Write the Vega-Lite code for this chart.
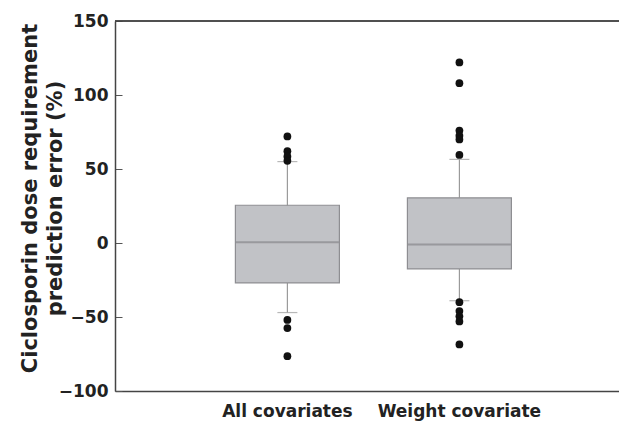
{
  "$schema": "https://vega.github.io/schema/vega-lite/v6.json",
  "width": 504,
  "height": 370,
  "autosize": {"type": "none"},
  "padding": {"left": 115, "top": 21, "right": 0, "bottom": 31},
  "background": "white",
  "config": {
    "view": {"stroke": null},
    "font": "DejaVu Sans"
  },
  "datasets": {
    "boxes": [
      {"cat": "All covariates", "lower": -47, "q1": -27, "median": 0.5, "q3": 25.5, "upper": 55},
      {"cat": "Weight covariate", "lower": -39, "q1": -17.5, "median": -1, "q3": 30.5, "upper": 56.5}
    ],
    "outliers": [
      {"cat": "All covariates", "v": 72},
      {"cat": "All covariates", "v": 62},
      {"cat": "All covariates", "v": 58.5},
      {"cat": "All covariates", "v": 55.5},
      {"cat": "All covariates", "v": -52},
      {"cat": "All covariates", "v": -57.5},
      {"cat": "All covariates", "v": -76.5},
      {"cat": "Weight covariate", "v": 122},
      {"cat": "Weight covariate", "v": 108},
      {"cat": "Weight covariate", "v": 76},
      {"cat": "Weight covariate", "v": 72.5},
      {"cat": "Weight covariate", "v": 70},
      {"cat": "Weight covariate", "v": 59.5},
      {"cat": "Weight covariate", "v": -40},
      {"cat": "Weight covariate", "v": -46},
      {"cat": "Weight covariate", "v": -49.5},
      {"cat": "Weight covariate", "v": -53},
      {"cat": "Weight covariate", "v": -68.5}
    ]
  },
  "encoding": {
    "x": {
      "field": "cat",
      "type": "nominal",
      "sort": ["All covariates", "Weight covariate"],
      "scale": {"paddingInner": 0, "paddingOuter": 0.465, "align": 0.54},
      "axis": {
        "title": null,
        "labelAngle": 0,
        "ticks": false,
        "labelPadding": 12,
        "labelFont": "DejaVu Sans",
        "labelFontWeight": "bold",
        "labelFontSize": 17,
        "labelColor": "#222",
        "domainColor": "#444",
        "domainWidth": 1.5
      }
    }
  },
  "layer": [
    {
      "data": {"name": "boxes"},
      "mark": {"type": "rule", "color": "#9a9a9a", "strokeWidth": 1.2},
      "encoding": {
        "y": {
          "field": "lower",
          "type": "quantitative",
          "scale": {"domain": [-100, 150], "nice": false, "zero": false},
          "axis": {
            "values": [-100, -50, 0, 50, 100, 150],
            "title": ["Ciclosporin dose requirement", "prediction error (%)"],
            "titleFont": "DejaVu Sans",
            "titleFontWeight": "bold",
            "titleFontSize": 21,
            "titleColor": "#222",
            "titleLineHeight": 25,
            "titleAlign": "center",
            "titlePadding": -7,
            "titleY": 177,
            "labelFont": "DejaVu Sans",
            "labelFontWeight": "bold",
            "labelFontSize": 17,
            "labelColor": "#222",
            "labelExpr": "replace(datum.label, '-', '\u2212')",
            "grid": false,
            "tickSize": -7,
            "tickColor": "#555",
            "labelPadding": 14,
            "domainColor": "#444",
            "domainWidth": 1.5
          }
        },
        "y2": {"field": "upper"}
      }
    },
    {
      "data": {"name": "boxes"},
      "mark": {"type": "bar", "size": 104, "fill": "#c1c2c6", "stroke": "#8e8e92", "strokeWidth": 1.2},
      "encoding": {
        "y": {"field": "q1", "type": "quantitative"},
        "y2": {"field": "q3"}
      }
    },
    {
      "data": {"name": "boxes"},
      "mark": {"type": "tick", "size": 103, "thickness": 2, "color": "#88888c"},
      "encoding": {
        "y": {"field": "median", "type": "quantitative"}
      }
    },
    {
      "data": {"name": "boxes"},
      "mark": {"type": "tick", "size": 20, "thickness": 1.2, "color": "#9a9a9a"},
      "encoding": {
        "y": {"field": "lower", "type": "quantitative"}
      }
    },
    {
      "data": {"name": "boxes"},
      "mark": {"type": "tick", "size": 20, "thickness": 1.2, "color": "#9a9a9a"},
      "encoding": {
        "y": {"field": "upper", "type": "quantitative"}
      }
    },
    {
      "data": {"name": "outliers"},
      "mark": {"type": "point", "filled": true, "size": 60, "color": "#111", "opacity": 1},
      "encoding": {
        "y": {"field": "v", "type": "quantitative"}
      }
    },
    {
      "data": {"name": "boxes"},
      "mark": {"type": "rule", "color": "#444", "strokeWidth": 1.5},
      "encoding": {
        "x": null,
        "y": {"datum": 150, "type": "quantitative"}
      }
    }
  ]
}
